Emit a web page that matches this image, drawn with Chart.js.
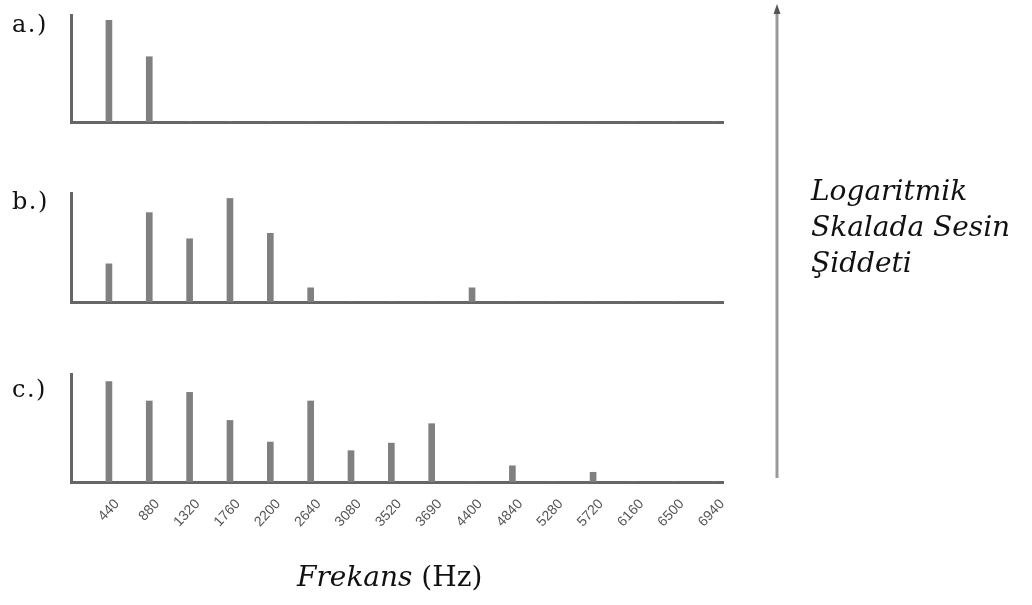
<!DOCTYPE html>
<html lang="tr">
<head>
<meta charset="utf-8">
<title>Frekans spektrumu</title>
<script src="https://cdn.jsdelivr.net/npm/chart.js@4.4.1/dist/chart.umd.min.js"></script>
<style>
  html, body { margin: 0; padding: 0; background: #fff; }
  #stage { position: relative; width: 1032px; height: 605px; overflow: hidden; }
  #stage canvas { position: absolute; left: 0; top: 0; }
  .txt { position: absolute; color: #111; white-space: nowrap; font-family: "DejaVu Serif", "Liberation Serif", serif; }
  .panel-tag { font-size: 24px; left: 12px; letter-spacing: 1.5px; }
  #xtitle { left: 297px; top: 560px; font-size: 28px; }
  #xtitle i { font-style: italic; }
  #ytitle { left: 811px; top: 173px; font-size: 28px; font-style: italic; line-height: 36px; }
</style>
</head>
<body>
<div id="stage">
  <canvas id="pa" width="1032" height="605"></canvas>
  <canvas id="pb" width="1032" height="605"></canvas>
  <canvas id="pc" width="1032" height="605"></canvas>
  <div class="txt panel-tag" style="top:10px">a.)</div>
  <div class="txt panel-tag" style="top:187px">b.)</div>
  <div class="txt panel-tag" style="top:375px">c.)</div>
  <div class="txt" id="xtitle"><i>Frekans</i> (Hz)</div>
  <div class="txt" id="ytitle">Logaritmik<br>Skalada Sesin<br>Şiddeti</div>
</div>
<script>
// Frequency bins (Hz) shown under the bottom spectrum
const freqLabels = ['440', '880', '1320', '1760', '2200', '2640', '3080', '3520',
                    '3690', '4400', '4840', '5280', '5720', '6160', '6500', '6940'];

// Relative intensity of each harmonic (0 = no component), one array per spectrum
const spectrumA = [95, 61, 0, 0, 0, 0, 0, 0, 0, 0, 0, 0, 0, 0, 0, 0];
const spectrumB = [35, 82, 58, 95, 63, 13, 0, 0, 0, 13, 0, 0, 0, 0, 0, 0];
const spectrumC = [93, 75, 83, 57, 37, 75, 29, 36, 54, 0, 15, 0, 9, 0, 0, 0];

const BAR_COLOR = '#808080';
const AXIS_COLOR = '#666666';
const W = 1032, H = 605;
const PLOT_LEFT = 71, PLOT_RIGHT = 723;
const TICK_BAND = 60;

// Vertical intensity arrow on the right-hand side
const intensityArrow = {
  id: 'intensityArrow',
  afterDraw(chart) {
    const ctx = chart.ctx;
    const x = 777, yTop = 4, yBottom = 478;
    ctx.save();
    ctx.strokeStyle = '#999999';
    ctx.fillStyle = '#555555';
    ctx.lineWidth = 3;
    ctx.beginPath();
    ctx.moveTo(x, yBottom);
    ctx.lineTo(x, yTop + 8);
    ctx.stroke();
    ctx.beginPath();
    ctx.moveTo(x, yTop);
    ctx.lineTo(x - 3.5, yTop + 10);
    ctx.lineTo(x + 3.5, yTop + 10);
    ctx.closePath();
    ctx.fill();
    ctx.restore();
  }
};

function spectrumChart(canvasId, values, plotTop, plotBottom, showTicks, extraPlugins) {
  const bottomPad = H - plotBottom - (showTicks ? TICK_BAND : 0);
  return new Chart(document.getElementById(canvasId), {
    type: 'bar',
    data: {
      datasets: [{
        data: values.map((v, i) => ({ x: i, y: v })),
        backgroundColor: BAR_COLOR,
        borderWidth: 0,
        barThickness: 6
      }]
    },
    options: {
      responsive: false,
      animation: false,
      events: [],
      layout: { padding: { left: PLOT_LEFT, right: W - PLOT_RIGHT, top: plotTop, bottom: bottomPad } },
      plugins: { legend: { display: false }, tooltip: { enabled: false } },
      scales: {
        x: {
          type: 'linear',
          offset: false,
          min: -0.94,
          max: 15.22,
          grid: { display: false },
          border: { display: true, color: AXIS_COLOR, width: 3 },
          afterBuildTicks: (scale) => { scale.ticks = freqLabels.map((_, i) => ({ value: i })); },
          afterFit: (scale) => { scale.height = showTicks ? TICK_BAND : 0; },
          ticks: {
            display: showTicks,
            autoSkip: false,
            minRotation: 47,
            maxRotation: 47,
            padding: 6,
            labelOffset: 8,
            color: '#555555',
            font: { family: 'Liberation Sans', size: 14 },
            callback: (v) => freqLabels[v] ?? ''
          }
        },
        y: {
          min: 0,
          max: 100,
          grid: { display: false },
          border: { display: true, color: AXIS_COLOR, width: 3 },
          ticks: { display: false },
          afterFit: (scale) => { scale.width = 0; }
        }
      }
    },
    plugins: extraPlugins || []
  });
}

spectrumChart('pa', spectrumA, 15, 122, false);
spectrumChart('pb', spectrumB, 193, 302, false);
spectrumChart('pc', spectrumC, 374, 482, true, [intensityArrow]);
</script>
</body>
</html>
